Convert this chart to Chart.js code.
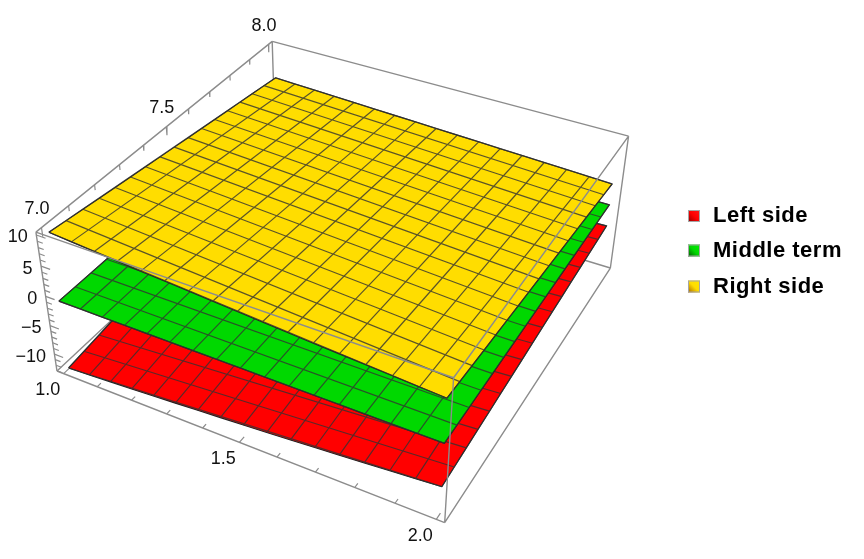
<!DOCTYPE html>
<html>
<head>
<meta charset="utf-8">
<style>
  html, body { margin: 0; padding: 0; background: #fff; }
  canvas { display: block; }
</style>
<script src="https://cdn.jsdelivr.net/npm/chart.js@4"></script>
</head>
<body>
<canvas id="surfaceChart" width="864" height="559"></canvas>
<script>
// Axis ranges (with the 2% box padding) and tick labels
const xBounds = [0.98, 2.02];
const yBounds = [6.98, 8.02];
const zBounds = [-13.05, 10.45];
const xTickLabels = ['1.0', '1.5', '2.0'];
const yTickLabels = ['7.0', '7.5', '8.0'];
const zTickLabels = ['\u221210', '\u22125', '0', '5', '10'];
const xMinorTicks = [1.0, 1.1, 1.2, 1.3, 1.4, 1.5, 1.6, 1.7, 1.8, 1.9, 2.0];
const yMinorTicks = [7.0, 7.1, 7.2, 7.3, 7.4, 7.5, 7.6, 7.7, 7.8, 7.9, 8.0];
const zMinorTicks = [-13, -12, -11, -10, -9, -8, -7, -6, -5, -4, -3, -2, -1, 0, 1, 2, 3, 4, 5, 6, 7, 8, 9, 10];

// Mesh line positions
const meshX = [1, 1.0625, 1.125, 1.1875, 1.25, 1.3125, 1.375, 1.4375, 1.5, 1.5625, 1.625, 1.6875, 1.75, 1.8125, 1.875, 1.9375, 2];
const meshY = [7, 7.0625, 7.125, 7.1875, 7.25, 7.3125, 7.375, 7.4375, 7.5, 7.5625, 7.625, 7.6875, 7.75, 7.8125, 7.875, 7.9375, 8];

// Surface heights read along the four edges of each sheet
const leftAtY7 = [-12.90, -12.68, -12.45, -12.22, -11.97, -11.72, -11.46, -11.19, -10.92, -10.63, -10.34, -10.04, -9.73, -9.42, -9.09, -8.76, -8.42];
const leftAtY8 = [-7.10, -6.96, -6.83, -6.69, -6.55, -6.41, -6.28, -6.14, -6.00, -5.86, -5.73, -5.59, -5.45, -5.31, -5.18, -5.04, -4.90];
const leftAtX1 = [-12.90, -12.53, -12.17, -11.81, -11.45, -11.09, -10.72, -10.36, -10.00, -9.64, -9.28, -8.91, -8.55, -8.19, -7.83, -7.46, -7.10];
const leftAtX2 = [-8.42, -8.20, -7.98, -7.76, -7.54, -7.32, -7.10, -6.88, -6.66, -6.44, -6.22, -6.00, -5.78, -5.56, -5.34, -5.12, -4.90];

const middleAtY7 = [-1.16, -1.16, -1.17, -1.17, -1.17, -1.18, -1.18, -1.18, -1.18, -1.19, -1.19, -1.19, -1.19, -1.20, -1.20, -1.20, -1.20];
const middleAtY8 = [-1.15, -1.15, -1.14, -1.14, -1.14, -1.13, -1.13, -1.13, -1.13, -1.12, -1.12, -1.12, -1.11, -1.11, -1.11, -1.10, -1.10];
const middleAtX1 = [-1.16, -1.16, -1.16, -1.16, -1.16, -1.16, -1.16, -1.16, -1.15, -1.15, -1.15, -1.15, -1.15, -1.15, -1.15, -1.15, -1.15];
const middleAtX2 = [-1.20, -1.19, -1.19, -1.18, -1.18, -1.17, -1.17, -1.16, -1.15, -1.15, -1.14, -1.14, -1.13, -1.12, -1.12, -1.11, -1.10];

const rightAtY7 = [10.10, 9.81, 9.53, 9.25, 8.97, 8.70, 8.44, 8.18, 7.92, 7.66, 7.40, 7.15, 6.91, 6.67, 6.43, 6.20, 5.97];
const rightAtY8 = [4.76, 4.62, 4.49, 4.35, 4.22, 4.08, 3.94, 3.81, 3.67, 3.53, 3.40, 3.26, 3.13, 2.99, 2.85, 2.72, 2.58];
const rightAtX1 = [10.10, 9.75, 9.40, 9.06, 8.72, 8.38, 8.04, 7.71, 7.38, 7.05, 6.72, 6.39, 6.07, 5.75, 5.43, 5.11, 4.76];
const rightAtX2 = [5.97, 5.75, 5.53, 5.32, 5.11, 4.90, 4.69, 4.48, 4.27, 4.06, 3.85, 3.64, 3.43, 3.22, 3.01, 2.79, 2.58];

const seriesNames = ['Left side', 'Middle term', 'Right side'];
const seriesColors = ['#ff0000', '#00d800', '#ffdd00'];

// Perspective camera for the unit box, fitted to the picture
const camOrigin = [57, 371];
const camX = [338, 93.3];
const camY = [278.4, -168.6];
const camZ = [-23.6, -155];
const camW = [-0.1117, 0.215, -0.0695];

const frameColor = '#8c8c8c';
const gap = { x: NaN, y: NaN };

function project(x, y, z) {
    const nx = (x - xBounds[0]) / (xBounds[1] - xBounds[0]);
    const ny = (y - yBounds[0]) / (yBounds[1] - yBounds[0]);
    const nz = (z - zBounds[0]) / (zBounds[1] - zBounds[0]);
    const w = 1 + camW[0] * nx + camW[1] * ny + camW[2] * nz;
    return {
        x: (camOrigin[0] + camX[0] * nx + camY[0] * ny + camZ[0] * nz) / w,
        y: (camOrigin[1] + camX[1] * nx + camY[1] * ny + camZ[1] * nz) / w
    };
}

function lineDataset(points, color, width) {
    return {
        data: points,
        borderColor: color,
        borderWidth: width,
        pointRadius: 0,
        showLine: true,
        fill: false,
        tension: 0
    };
}

// Box edges, given as pairs of corners (0 = low end, 1 = high end of each axis)
function boxEdges(pairs) {
    const pts = [];
    pairs.forEach(([a, b]) => {
        [a, b].forEach(c => pts.push(project(xBounds[c[0]], yBounds[c[1]], zBounds[c[2]])));
        pts.push(gap);
    });
    return pts;
}

function tickSegments() {
    const span = b => b[1] - b[0];
    const pts = [];
    xMinorTicks.forEach(t => {
        const len = (t === 1 || t === 1.5 || t === 2 ? 0.02 : 0.014) * span(yBounds);
        pts.push(project(t, yBounds[0], zBounds[0]), project(t, yBounds[0] + len, zBounds[0]), gap);
    });
    yMinorTicks.forEach(t => {
        const len = (t === 7 || t === 7.5 || t === 8 ? 0.06 : 0.037) * span(zBounds);
        pts.push(project(xBounds[0], t, zBounds[1]), project(xBounds[0], t, zBounds[1] - len), gap);
    });
    zMinorTicks.forEach(t => {
        const len = (t % 5 === 0 ? 0.025 : 0.015) * span(xBounds);
        pts.push(project(xBounds[0], yBounds[0], t), project(xBounds[0] + len, yBounds[0], t), gap);
    });
    return pts;
}

function surfaceDatasets(atY7, atY8, atX1, atX2, color) {
    // outline, walked round the sheet
    const outline = [];
    meshX.forEach((x, i) => outline.push(project(x, 7, atY7[i])));
    meshY.forEach((y, j) => outline.push(project(2, y, atX2[j])));
    for (let i = meshX.length - 1; i >= 0; i--) outline.push(project(meshX[i], 8, atY8[i]));
    for (let j = meshY.length - 1; j >= 0; j--) outline.push(project(1, meshY[j], atX1[j]));

    const mesh = [];
    meshX.forEach((x, i) => mesh.push(project(x, 7, atY7[i]), project(x, 8, atY8[i]), gap));
    meshY.forEach((y, j) => mesh.push(project(1, y, atX1[j]), project(2, y, atX2[j]), gap));

    const sheet = lineDataset(outline, '#222222', 1.1);
    sheet.fill = 'shape';
    sheet.backgroundColor = color;
    return [sheet, lineDataset(mesh, 'rgba(50,50,50,0.8)', 1.2)];
}

// Painter's order, back to front
const painted = [
    lineDataset(boxEdges([
        [[0, 0, 1], [0, 1, 1]],
        [[0, 1, 1], [1, 1, 1]],
        [[0, 0, 0], [0, 1, 0]],
        [[0, 1, 0], [1, 1, 0]],
        [[0, 1, 0], [0, 1, 1]]
    ]), frameColor, 1.4),
    ...surfaceDatasets(leftAtY7, leftAtY8, leftAtX1, leftAtX2, seriesColors[0]),
    ...surfaceDatasets(middleAtY7, middleAtY8, middleAtX1, middleAtX2, seriesColors[1]),
    ...surfaceDatasets(rightAtY7, rightAtY8, rightAtX1, rightAtX2, seriesColors[2]),
    lineDataset(boxEdges([
        [[0, 0, 0], [1, 0, 0]],
        [[1, 0, 0], [1, 1, 0]],
        [[0, 0, 0], [0, 0, 1]],
        [[1, 1, 0], [1, 1, 1]],
        [[0, 0, 1], [1, 0, 1]],
        [[1, 0, 1], [1, 1, 1]],
        [[1, 0, 0], [1, 0, 1]]
    ]), frameColor, 1.4),
    lineDataset(tickSegments(), frameColor, 1.2)
];

// Tick labels and the legend
const labelsPlugin = {
    id: 'boxLabels',
    afterDraw(chart) {
        const { ctx, scales } = chart;
        const place = (text, p, dx, dy, align) => {
            ctx.textAlign = align;
            ctx.fillText(text, scales.x.getPixelForValue(p.x) + dx, scales.y.getPixelForValue(p.y) + dy);
        };
        ctx.save();
        ctx.fillStyle = '#111';
        ctx.textBaseline = 'middle';
        ctx.font = '18px "Liberation Sans"';
        xTickLabels.forEach(t => place(t, project(Number(t), yBounds[0], zBounds[0]), -16, 16.5, 'center'));
        yTickLabels.forEach(t => place(t, project(xBounds[0], Number(t), zBounds[1]), -4.5, -18.5, 'center'));
        zTickLabels.forEach(t => place(t, project(xBounds[0], yBounds[0], Number(t.replace('\u2212', '-'))), -8.5, 2.5, 'right'));

        const rows = [216, 250.5, 286.5];
        const shades = [['#ff1a1a', '#8c0000'], ['#00f000', '#005a00'], ['#ffe600', '#a86400']];
        seriesNames.forEach((name, i) => {
            const g = ctx.createLinearGradient(700, rows[i] - 6, 688, rows[i] + 6);
            g.addColorStop(0, shades[i][0]);
            g.addColorStop(0.5, seriesColors[i]);
            g.addColorStop(1, shades[i][1]);
            ctx.fillStyle = g;
            ctx.fillRect(688, rows[i] - 6, 12, 12);
            ctx.strokeStyle = '#a5a5a5';
            ctx.lineWidth = 1;
            ctx.strokeRect(688.5, rows[i] - 5.5, 11, 11);
            ctx.fillStyle = '#000';
            ctx.textAlign = 'left';
            ctx.font = 'bold 22px "Liberation Sans"';
            ctx.letterSpacing = '0.5px';
            ctx.fillText(name, 713, rows[i]);
            ctx.letterSpacing = '0px';
        });
        ctx.restore();
    }
};

// Chart.js paints the first dataset last, so hand them over back to front reversed
new Chart(document.getElementById('surfaceChart').getContext('2d'), {
    type: 'scatter',
    data: { datasets: painted.slice().reverse() },
    options: {
        responsive: false,
        animation: false,
        events: [],
        layout: { padding: 0 },
        plugins: { legend: { display: false }, tooltip: { enabled: false } },
        scales: {
            x: { type: 'linear', display: false, min: 0, max: 864 },
            y: { type: 'linear', display: false, min: 0, max: 559, reverse: true }
        }
    },
    plugins: [labelsPlugin]
});
</script>
</body>
</html>
